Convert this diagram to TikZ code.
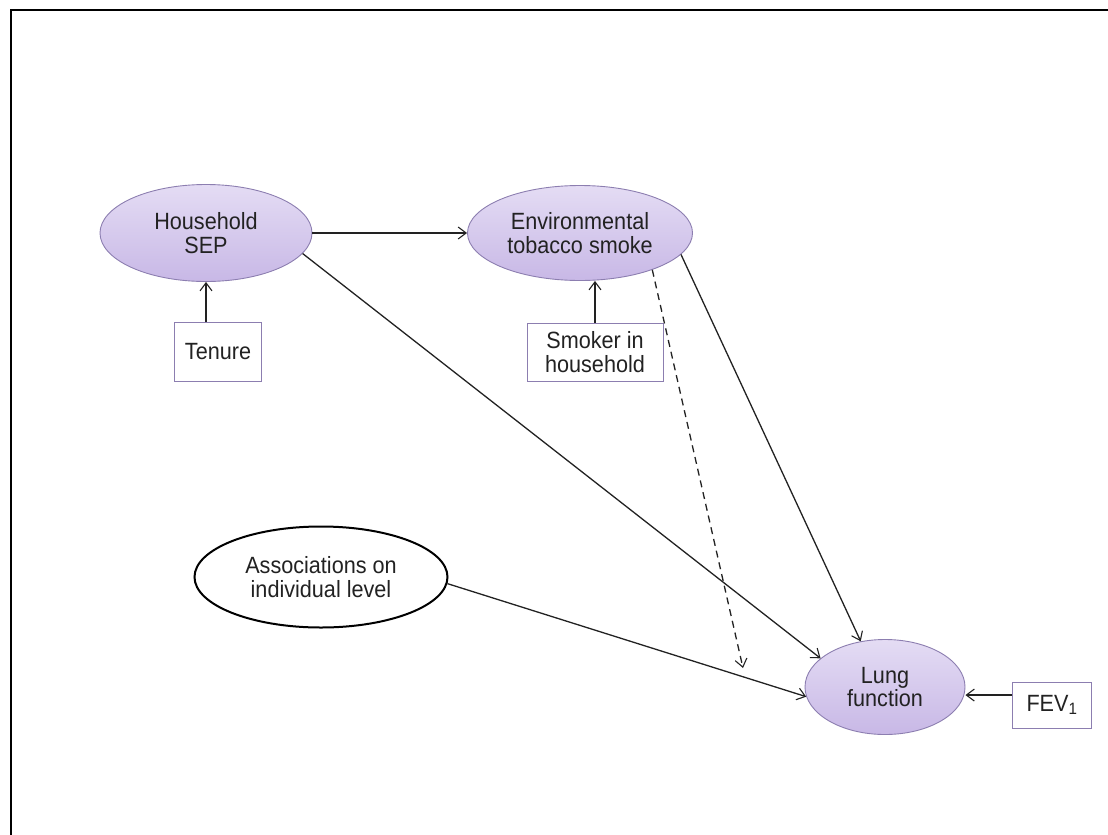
\documentclass[tikz,border=0pt]{standalone}
\usepackage{fontspec}
\setmainfont[FakeStretch=0.92]{Liberation Sans}
\usetikzlibrary{shapes.geometric,arrows.meta}
\definecolor{lavtop}{HTML}{E4DCF4}
\definecolor{lavbot}{HTML}{C8B8E6}
\definecolor{lavedge}{HTML}{8C7EB0}
\definecolor{ink}{HTML}{222222}
\tikzset{
  txt/.style={font=\fontsize{23.5}{23.5}\selectfont, text=ink, align=center, inner sep=0pt},
  construct/.style={txt, ellipse, draw=lavedge, line width=0.9pt,
    top color=lavtop, bottom color=lavbot},
  level/.style={txt, ellipse, draw=black, line width=2pt, fill=white},
  indicator/.style={txt, rectangle, draw=lavedge, line width=0.9pt, fill=white},
  arr/.style={draw=ink, line width=1.3pt, -{Straight Barb[length=8pt,width=12pt,line width=1.1pt]}},
  darr/.style={arr, dash pattern=on 7pt off 5pt}
}
\begin{document}
\begin{tikzpicture}[x=1pt,y=-1pt]
\useasboundingbox (0,0) rectangle (1108,835);
% page frame
\draw[line width=2.2pt, black] (11,835) -- (11,10) -- (1108,10);

% latent constructs
\node[construct, minimum width=212pt, minimum height=97pt] (hh) at (206,233) {Household\\SEP};
\node[construct, minimum width=225pt, minimum height=95pt] (ets) at (580,233) {Environmental\\tobacco smoke};
\node[level, minimum width=253pt, minimum height=101pt] (assoc) at (321,577) {Associations on\\individual level};
\node[construct, minimum width=160pt, minimum height=95pt] (lung) at (885,687) {Lung\\function};

% observed indicators
\node[indicator, minimum width=87pt, minimum height=59pt] (tenure) at (218,352) {Tenure};
\node[indicator, minimum width=136pt, minimum height=58pt] (smoker) at (595,352) {Smoker in\\household};
\node[indicator, minimum width=79pt, minimum height=46pt] (fev) at (1052,705) {FEV\textsubscript{1}};

\coordinate (dashend) at (743,668);

% paths
\draw[arr] (hh.east) -- (ets.west);
\draw[arr] (hh.south |- tenure.north) -- (hh.south);
\draw[arr] (smoker.north) -- (smoker.north |- ets.south);
\draw[arr] (hh.-12.6) -- (lung.156);
\draw[arr] (ets.-12.8) -- (lung.118);
\draw[darr] (ets.-27) -- (dashend);
\draw[arr] (assoc.-3.6) -- (lung.187);
\draw[arr] (fev.166) -- (fev.166 -| lung.east);
\end{tikzpicture}
\end{document}
